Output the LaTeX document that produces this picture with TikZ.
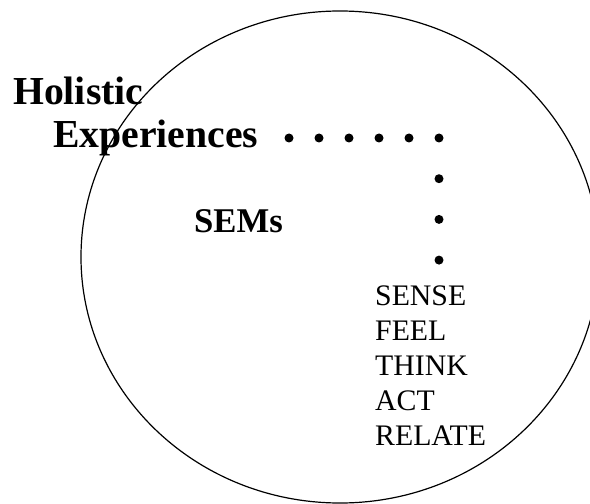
\documentclass[tikz,border=0pt]{standalone}
\usepackage{fontspec}
\setmainfont{Liberation Serif}
\usetikzlibrary{positioning}

\tikzset{
  headline/.style={anchor=base west,inner sep=0pt,font=\fontsize{39.7bp}{44bp}\selectfont\bfseries},
  semlabel/.style={anchor=base west,inner sep=0pt,font=\fontsize{34.7bp}{40bp}\selectfont\bfseries},
  module/.style={anchor=base west,inner sep=0pt,font=\fontsize{29.8bp}{35bp}\selectfont},
}

\begin{document}
\begin{tikzpicture}[x=1bp,y=-1bp]
  \useasboundingbox (0,0) rectangle (590,504);
  \draw[line width=1.2bp] (340,257) ellipse [x radius=259bp, y radius=246bp];

  \node[headline] (holistic) at (13,105) {Holistic};
  \node[headline] (exper) at (53,148) {Experiences};
  \node[semlabel] (sems) at (194,233) {SEMs};

  % dotted path from the heading down to the modules
  \foreach \k in {0,...,5} {\fill (289+30*\k,138) circle (4.5bp);}
  \foreach \k in {1,2,3} {\fill (439,{138+40.7*\k}) circle (4.5bp);}

  \foreach \w [count=\i] in {SENSE,FEEL,THINK,ACT,RELATE}
    \node[module] (m\i) at (375,{305+35*(\i-1)}) {\w};
\end{tikzpicture}
\end{document}
